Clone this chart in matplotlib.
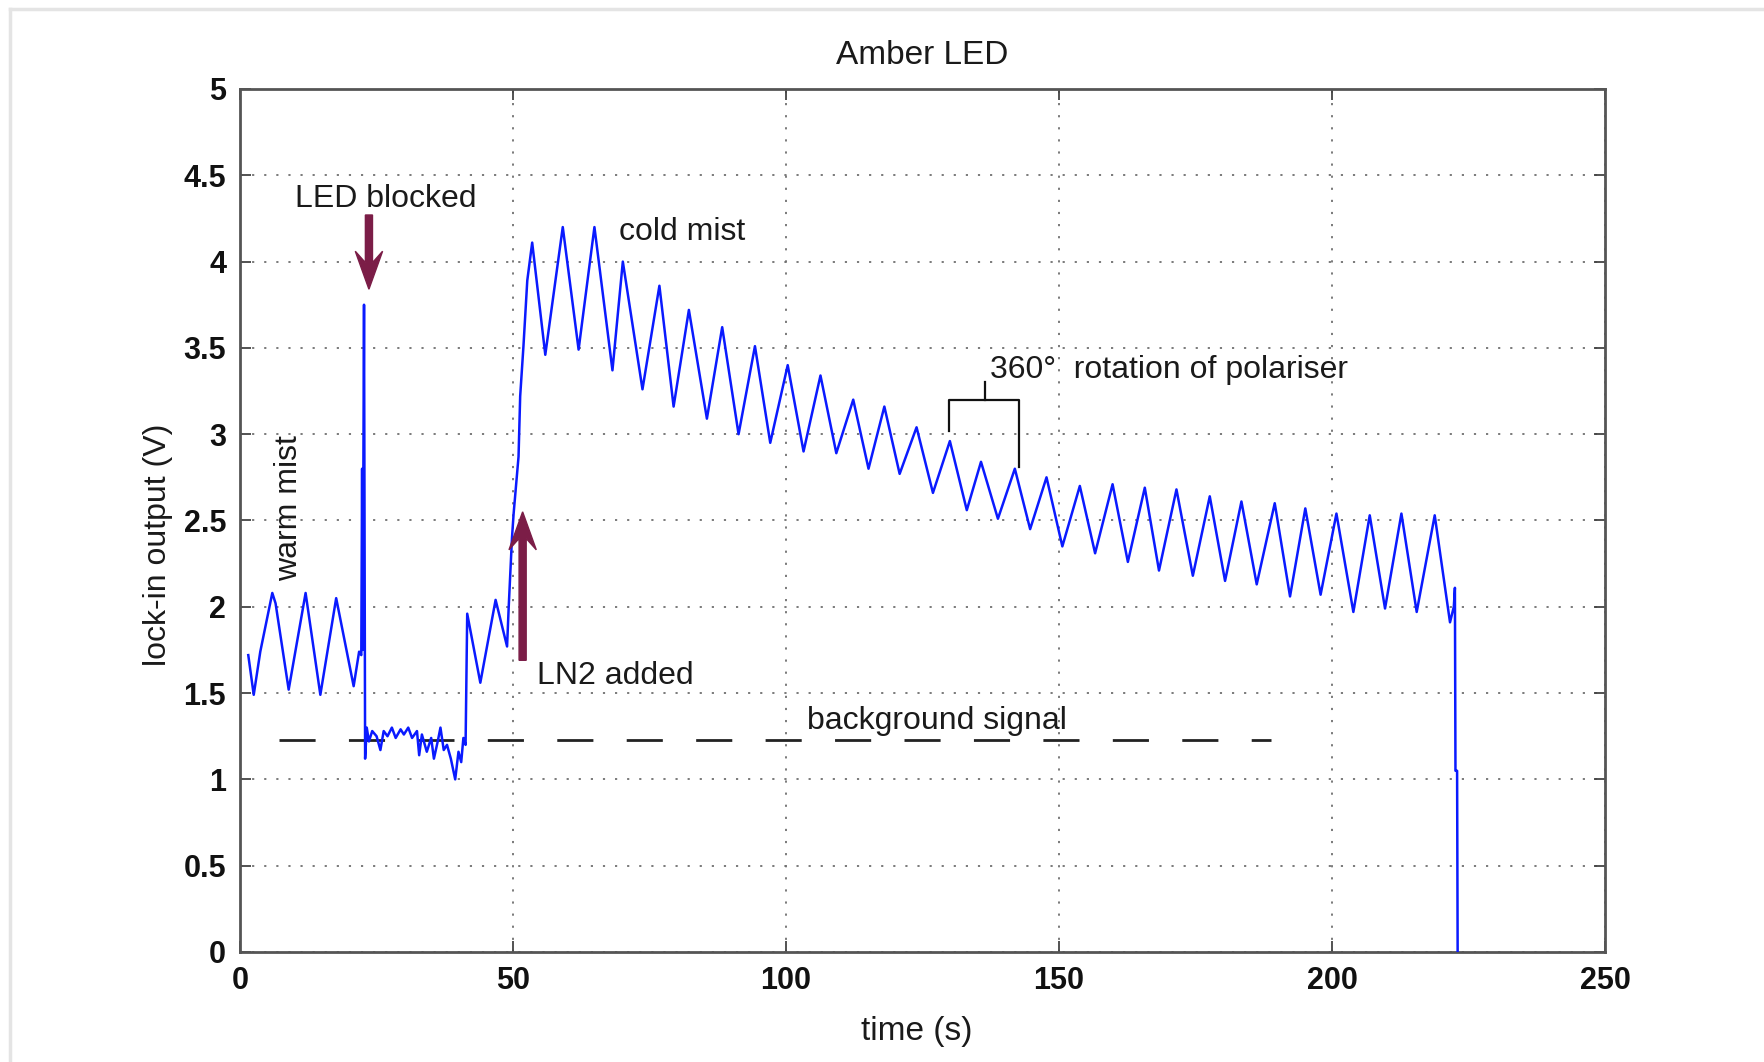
import matplotlib
matplotlib.use('Agg')
import matplotlib.pyplot as plt
from matplotlib.lines import Line2D

plt.rcParams['font.family'] = ['Liberation Sans', 'DejaVu Sans']

# lock-in output (peaks, troughs and the steps between them)
time_s = [1.5, 2.5, 3.7, 5.9, 6.5, 8.9, 12.0, 14.7, 17.6, 20.8, 21.8, 22.2,
          22.35, 22.45, 22.7, 22.9,
          23.2, 23.6, 24.2, 25.0, 25.7, 26.3, 27.0, 27.8, 28.5, 29.4, 30.0,
          30.8, 31.5, 32.4, 32.8, 33.3, 34.2, 35.0, 35.5, 36.2, 36.7, 37.3,
          37.9, 38.6, 39.4, 40.0, 40.5, 40.9, 41.3,
          41.6, 44.0, 46.8, 48.9, 49.2, 49.8, 50.1, 51.0, 51.3, 51.9, 52.6,
          53.5, 55.9, 59.1, 62.0, 64.9, 68.2, 70.1, 73.7, 76.8, 79.4, 82.2,
          85.5, 88.3, 91.3, 94.3, 97.1, 100.3, 103.2, 106.3, 109.2, 112.3,
          115.1, 118.0, 120.8, 123.9, 126.9, 130.0, 133.1, 135.7, 138.8,
          141.9, 144.7, 147.7, 150.6, 153.8, 156.6, 159.8, 162.6, 165.7,
          168.3, 171.5, 174.5, 177.6, 180.4, 183.4, 186.2, 189.5, 192.3,
          195.1, 197.9, 200.8, 203.9, 206.9, 209.7, 212.7, 215.5, 218.8,
          221.6, 222.3, 222.5, 222.6, 222.9, 223.0]
lockin_v = [1.72, 1.49, 1.74, 2.08, 2.02, 1.52, 2.08, 1.49, 2.05, 1.54, 1.74, 1.72,
            2.80, 1.75, 3.75, 1.12,
            1.30, 1.22, 1.28, 1.25, 1.17, 1.28, 1.25, 1.30, 1.24, 1.29, 1.26,
            1.30, 1.24, 1.28, 1.14, 1.26, 1.16, 1.24, 1.12, 1.22, 1.30, 1.17,
            1.20, 1.12, 1.00, 1.16, 1.10, 1.24, 1.20,
            1.96, 1.56, 2.04, 1.77, 2.00, 2.40, 2.54, 2.87, 3.22, 3.51, 3.89,
            4.11, 3.46, 4.20, 3.49, 4.20, 3.37, 4.00, 3.26, 3.86, 3.16, 3.72,
            3.09, 3.62, 3.00, 3.51, 2.95, 3.40, 2.90, 3.34, 2.89, 3.20,
            2.80, 3.16, 2.77, 3.04, 2.66, 2.96, 2.56, 2.84, 2.51,
            2.80, 2.45, 2.75, 2.35, 2.70, 2.31, 2.71, 2.26, 2.69,
            2.21, 2.68, 2.18, 2.64, 2.15, 2.61, 2.13, 2.60, 2.06,
            2.57, 2.07, 2.54, 1.97, 2.53, 1.99, 2.54, 1.97, 2.53,
            1.91, 2.00, 2.11, 1.05, 1.05, 0.0]

background_level = 1.23
background_span = [7.2, 188.8]

xticks = [0, 50, 100, 150, 200, 250]
yticks = [0, 0.5, 1, 1.5, 2, 2.5, 3, 3.5, 4, 4.5, 5]
ytick_labels = ['0', '0.5', '1', '1.5', '2', '2.5', '3', '3.5', '4', '4.5', '5']

arrow_col = '#7b1d47'
txt_col = '#1a1a1a'


def main():
    fig = plt.figure(figsize=(17.64, 10.62), dpi=100)
    fig.patch.set_facecolor('white')
    # faint frame of the screenshot
    fig.add_artist(Line2D([10/1764, 1], [1-9/1062, 1-9/1062], transform=fig.transFigure,
                          color='#e4e4e4', lw=2.5))
    fig.add_artist(Line2D([10/1764, 10/1764], [0, 1-9/1062], transform=fig.transFigure,
                          color='#e4e4e4', lw=2.5))

    ax = fig.add_axes([0.1361, 0.1036, 0.7738, 0.8126])
    ax.plot(time_s, lockin_v, color='#0a1aff', lw=1.8, zorder=3)
    ax.hlines(background_level, background_span[0], background_span[1],
              colors='#222222', lw=2.0, linestyles=(0, (13, 12)), zorder=2)

    ax.set_xlim(0, 250)
    ax.set_ylim(0, 5)
    ax.set_xticks(xticks)
    ax.set_xticklabels([str(t) for t in xticks])
    ax.set_yticks(yticks)
    ax.set_yticklabels(ytick_labels)
    ax.grid(True, linestyle=(0, (1.2, 5.5)), color='#6f6f6f', lw=1.3)
    ax.tick_params(direction='in', length=8, width=1.3, top=True, right=True,
                   colors='#444444', labelcolor='#111111', labelsize=22, pad=10)
    for lab in ax.get_xticklabels() + ax.get_yticklabels():
        lab.set_fontweight('bold')
    for sp in ax.spines.values():
        sp.set_color('#555555')
        sp.set_linewidth(2.0)

    ax.set_title('Amber LED', fontsize=24, color=txt_col, pad=18)
    ax.set_xlabel('time (s)', fontsize=24, color=txt_col)
    ax.set_ylabel('lock-in output (V)', fontsize=23, color=txt_col)
    ax.xaxis.set_label_coords(0.496, -0.074)
    ax.yaxis.set_label_coords(-0.049, 0.472)

    # annotations
    ax.text(26.7, 4.36, 'LED blocked', fontsize=23, color=txt_col, ha='center', va='center')
    ax.text(81.0, 4.17, 'cold mist', fontsize=23, color=txt_col, ha='center', va='center')
    ax.text(137.4, 3.37, '360°  rotation of polariser', fontsize=23, color=txt_col,
            ha='left', va='center')
    ax.text(54.3, 1.60, 'LN2 added', fontsize=23, color=txt_col, ha='left', va='center')
    ax.text(127.6, 1.34, 'background signal', fontsize=23, color=txt_col,
            ha='center', va='center')
    ax.text(8.9, 2.57, 'warm mist', fontsize=23, color=txt_col, rotation=90,
            ha='center', va='center')

    ax.arrow(23.6, 4.27, 0, -0.43, width=1.3, head_width=5.0, head_length=0.22,
             length_includes_head=True, overhang=0.3, color=arrow_col, zorder=4)
    ax.arrow(51.75, 1.69, 0, 0.86, width=1.3, head_width=5.0, head_length=0.22,
             length_includes_head=True, overhang=0.3, color=arrow_col, zorder=4)

    # bracket marking one full turn of the polariser
    ax.plot([129.9, 129.9, 142.7, 142.7], [3.02, 3.20, 3.20, 2.81], color='#111111', lw=1.6)
    ax.plot([136.4, 136.4], [3.20, 3.30], color='#111111', lw=1.6)

    fig.savefig('out.png', dpi=100, facecolor='white')


if __name__ == '__main__':
    main()
